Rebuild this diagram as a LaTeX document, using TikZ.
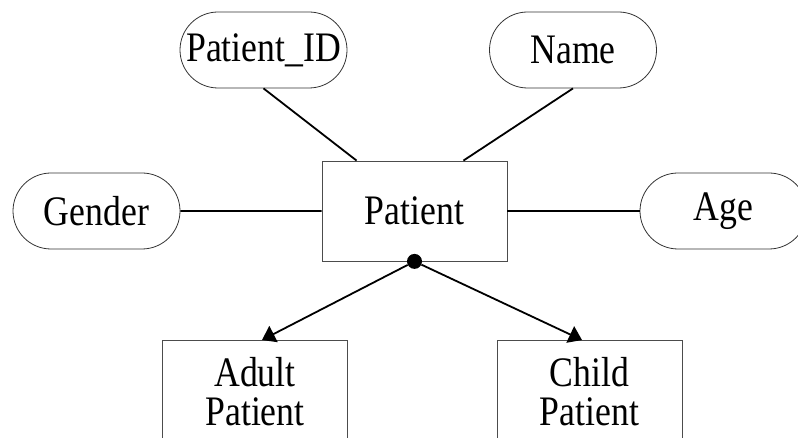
\documentclass[tikz,border=0pt]{standalone}
\usepackage{fontspec}
\setmainfont{Liberation Serif}[FakeStretch=0.85]
\usetikzlibrary{shapes.misc,arrows.meta}

\begin{document}
\begin{tikzpicture}[x=1pt,y=-1pt,
    attr/.style={draw=black!80,line width=0.8pt,rounded rectangle,minimum width=167pt,minimum height=76pt,inner sep=0pt},
    entity/.style={draw=black!70,line width=0.8pt,rectangle,minimum width=185pt,inner sep=0pt,align=center},
    link/.style={line width=1.8pt},
    isa/.style={line width=1.8pt,-{Triangle[width=18pt,length=13pt]}},
    font=\fontsize{42}{39}\selectfont]
    \clip (0,0) rectangle (798,438);
    % entity
    \node[entity,minimum height=100pt] (patient) at (414.5,211) {Patient};
    % attributes
    \node[attr] (pid) at (263.5,50) {Patient\_ID};
    \node[attr] (name) at (573,50) {Name};
    \node[attr] (gender) at (96.5,211) {Gender};
    \node[attr] (age) at (723.5,211) {Age};

    \draw[link] (pid.south) -- ([xshift=35pt]patient.north west);
    \draw[link] (name.south) -- ([xshift=-44pt]patient.north east);
    \draw[link] (gender) -- (patient);
    \draw[link] (age) -- (patient);

    % subclasses (boxes run off the bottom)
    \node[entity,anchor=north,minimum height=102pt] (adult) at (255,340) {Adult\\Patient};
    \node[entity,anchor=north,minimum height=102pt] (child) at (589.5,340) {Child\\Patient};
    \node[circle,fill,inner sep=0pt,minimum size=15pt] (dot) at (patient.south) {};
    \coordinate (adulttop) at (262,340);
    \coordinate (childtop) at (582,340);
    \draw[isa] (dot) -- (adulttop);
    \draw[isa] (dot) -- (childtop);
\end{tikzpicture}
\end{document}
